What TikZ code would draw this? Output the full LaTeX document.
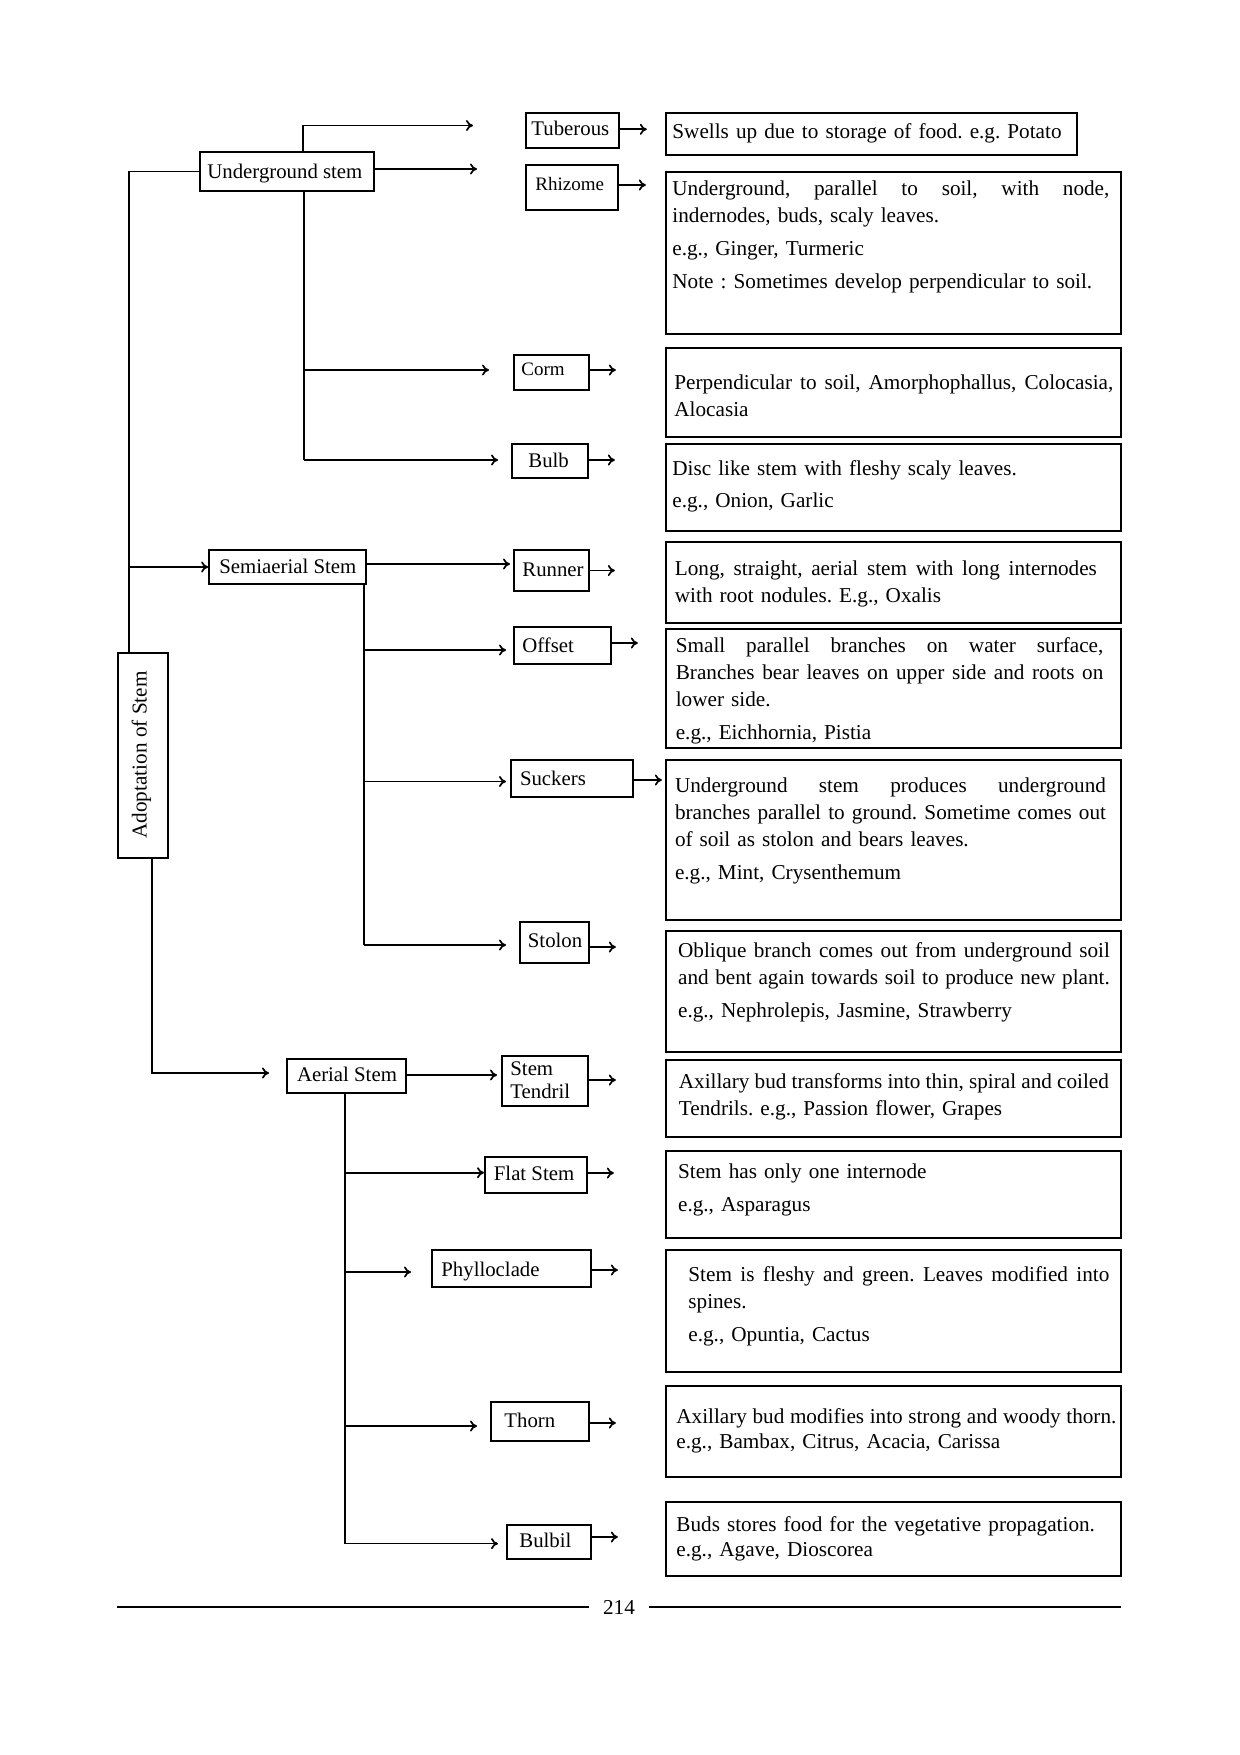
\documentclass[tikz,border=0pt]{standalone}
\usepackage{fontspec}
\setmainfont{Liberation Serif}
\usetikzlibrary{fit,arrows.meta}
\newcommand{\jl}[2]{{\spaceskip=0pt\xspaceskip=0pt\makebox[#1][s]{#2}}}
\begin{document}
\begin{tikzpicture}[x=0.5pt,y=-0.5pt,
  every node/.style={font=\fontsize{10.6}{13.5}\selectfont\frenchspacing, inner sep=0pt},
  sbox/.style={draw, line width=0.85pt, inner sep=0pt},
  dbox/.style={draw, line width=0.9pt, inner sep=0pt},
  lab/.style={anchor=base west, font=\fontsize{10.4}{12}\selectfont},
  labn/.style={anchor=base west, font=\fontsize{9.5}{12}\selectfont},
  dtxt/.style={anchor=base west, text width=226pt},
  dtxtb/.style={anchor=base west, text width=226pt, font=\fontsize{10.6}{12.5}\selectfont\frenchspacing},
  ln/.style={line width=0.85pt},
  arr/.style={line width=0.85pt, -{To[length=3.5pt,width=5.5pt]}},
  rule/.style={line width=0.9pt}
]
\fill[white] (0,0) rectangle (1240,1755);
\useasboundingbox (0,0) rectangle (1240,1755);

% ---------- main boxes ----------
\node[sbox, fit={(118.3,652.7) (168.3,858)}] (ado) {};
\node[rotate=90, font=\fontsize{10.6}{12}\selectfont] (adoT) at (141.5,755) {Adoptation of Stem};

\node[sbox, fit={(200,152) (374,191)}] (us) {};
\node[lab] (usT) at (207,178.2) {Underground stem};
\node[sbox, fit={(209,550) (366,584)}] (sa) {};
\node[lab] (saT) at (219,573) {Semiaerial Stem};
\node[sbox, fit={(287,1059) (406,1093)}] (as) {};
\node[lab] (asT) at (296.6,1081) {Aerial Stem};

% ---------- small boxes ----------
\node[sbox, fit={(526,113) (619,148)}] (tub) {};
\node[lab] (tubT) at (531,136) {Tuberous};
\node[sbox, fit={(526,165) (618,210)}] (rhi) {};
\node[labn] (rhiT) at (535,190.7) {Rhizome};
\node[sbox, fit={(514,355) (589,390)}] (corm) {};
\node[labn] (cormT) at (521,375.2) {Corm};
\node[sbox, fit={(512,444) (588,478)}] (bulb) {};
\node[lab] (bulbT) at (528,467) {Bulb};
\node[sbox, fit={(514,550) (589,591)}] (run) {};
\node[lab] (runT) at (522,576.7) {Runner};
\node[sbox, fit={(514,627) (611,664)}] (off) {};
\node[lab] (offT) at (522,652.4) {Offset};
\node[sbox, fit={(511,760) (633,797)}] (suck) {};
\node[lab] (suckT) at (519.6,785.7) {Suckers};
\node[sbox, fit={(520,922) (589,963)}] (stol) {};
\node[lab] (stolT) at (527.5,947.7) {Stolon};
\node[sbox, fit={(502,1056) (588,1106)}] (st) {};
\node[lab, text width=40pt, align=left, font=\fontsize{10.4}{11.25}\selectfont] (stT) at (510,1075.7) {Stem\\Tendril};
\node[sbox, fit={(485,1157) (587,1193)}] (fs) {};
\node[lab] (fsT) at (493.5,1180.7) {Flat Stem};
\node[sbox, fit={(432,1250) (591,1287)}] (ph) {};
\node[lab] (phT) at (441,1276.3) {Phylloclade};
\node[sbox, fit={(491,1402) (589,1441)}] (thorn) {};
\node[lab] (thornT) at (504,1427.5) {Thorn};
\node[sbox, fit={(507,1525) (591,1559)}] (bulbil) {};
\node[lab] (bulbilT) at (519,1547.4) {Bulbil};

% ---------- description boxes ----------
\node[dbox, fit={(666,113) (1077,155)}] (dtub) {};
\node[dtxt] (dtubT) at (672,139) {Swells up due to storage of food. e.g. Potato};

\node[dbox, fit={(666,172) (1121,334)}] (drhi) {};
\node[dtxt] (drhiT) at (672,196) {\jl{218.5pt}{Underground, parallel to soil, with node,}\\
indernodes, buds, scaly leaves.\\[3pt]
e.g., Ginger, Turmeric\\[3pt]
Note : Sometimes develop perpendicular to soil.};

\node[dbox, fit={(666,348) (1121,437)}] (dcorm) {};
\node[dtxt] (dcormT) at (674,389) {\jl{219.5pt}{Perpendicular to soil, Amorphophallus, Colocasia,}\\
Alocasia};

\node[dbox, fit={(666,444) (1121,531)}] (dbulb) {};
\node[dtxt] (dbulbT) at (672,475.2) {Disc like stem with fleshy scaly leaves.\\[2.5pt]
e.g., Onion, Garlic};

\node[dbox, fit={(666,542) (1121,623)}] (drun) {};
\node[dtxt] (drunT) at (674.5,575.5) {\jl{211pt}{Long, straight, aerial stem with long internodes}\\
with root nodules. E.g., Oxalis};

\node[dbox, fit={(666,629) (1121,748)}] (doff) {};
\node[dtxt] (doffT) at (675.4,652) {\jl{213.8pt}{Small parallel branches on water surface,}\\
\jl{213.8pt}{Branches bear leaves on upper side and roots on}\\
lower side.\\[3pt]
e.g., Eichhornia, Pistia};

\node[dbox, fit={(666,760) (1121,920)}] (dsuck) {};
\node[dtxt] (dsuckT) at (674.6,792.5) {\jl{215.5pt}{Underground stem produces underground}\\
\jl{215.5pt}{branches parallel to ground. Sometime comes out}\\
of soil as stolon and bears leaves.\\[3pt]
e.g., Mint, Crysenthemum};

\node[dbox, fit={(666,931) (1121,1052)}] (dstol) {};
\node[dtxt] (dstolT) at (677.7,957.8) {\jl{215.9pt}{Oblique branch comes out from underground soil}\\
\jl{215.9pt}{and bent again towards soil to produce new plant.}\\[3pt]
e.g., Nephrolepis, Jasmine, Strawberry};

\node[dbox, fit={(666,1060) (1121,1137)}] (dst) {};
\node[dtxt] (dstT) at (678.5,1088.5) {\jl{215pt}{Axillary bud transforms into thin, spiral and coiled}\\
Tendrils. e.g., Passion flower, Grapes};

\node[dbox, fit={(666,1151) (1121,1238)}] (dfs) {};
\node[dtxt] (dfsT) at (677.7,1178) {Stem has only one internode\\[3pt]
e.g., Asparagus};

\node[dbox, fit={(666,1250) (1121,1372)}] (dph) {};
\node[dtxt] (dphT) at (688,1281.5) {\jl{210.5pt}{Stem is fleshy and green. Leaves modified into}\\
spines.\\[3pt]
e.g., Opuntia, Cactus};

\node[dbox, fit={(666,1386) (1121,1477)}] (dthorn) {};
\node[dtxtb] (dthornT) at (676,1423.3) {\jl{220pt}{Axillary bud modifies into strong and woody thorn.}\\
e.g., Bambax, Citrus, Acacia, Carissa};

\node[dbox, fit={(666,1502) (1121,1576)}] (dbulbil) {};
\node[dtxtb] (dbulbilT) at (676,1531.5) {Buds stores food for the vegetative propagation.\\
e.g., Agave, Dioscorea};

% ---------- short arrows from small boxes ----------
\draw[arr] ([yshift=0.6pt]tub.east) -- ++(27,0);
\draw[arr] ([yshift=1.25pt]rhi.east) -- ++(27,0);
\draw[arr] ([yshift=1.25pt]corm.east) -- ++(26,0);
\draw[arr] ([yshift=0.5pt]bulb.east) -- ++(26,0);
\draw[arr] (run.east) -- ++(25,0);
\draw[arr] ([yshift=1.25pt]off.east) -- ++(26,0);
\draw[arr] ([yshift=-0.75pt]suck.east) -- ++(28,0);
\draw[arr] ([yshift=-2.25pt]stol.east) -- ++(26,0);
\draw[arr] ([yshift=0.5pt]st.east) -- ++(27,0);
\draw[arr] ([yshift=1pt]fs.east) -- ++(26,0);
\draw[arr] ([yshift=-0.75pt]ph.east) -- ++(26,0);
\draw[arr] ([yshift=-0.75pt]thorn.east) -- ++(26,0);
\draw[arr] ([yshift=2.5pt]bulbil.east) -- ++(26,0);

% ---------- tree connectors ----------
\coordinate (mainX) at (129.3,170);
\draw[ln] (us.west) -- (mainX |- us.west) -- (mainX |- ado.north);
\draw[arr] (mainX |- sa.west) -- (sa.west);
\coordinate (asIn) at (269,1073);
\draw[arr] ([xshift=4.5pt]ado.south) |- (asIn);

% underground
\coordinate (tubIn) at (473,125.5);
\draw[arr] ([xshift=8pt]us.north) |- (tubIn);
\coordinate (rhiIn) at (477,169);
\draw[arr] ([yshift=1.25pt]us.east) -- (rhiIn);
\coordinate (usV) at (304,460);
\draw[ln] (usV |- us.south) -- (usV);
\coordinate (cormIn) at (489,370);
\draw[arr] (usV |- cormIn) -- (cormIn);
\coordinate (bulbIn) at (498,460);
\draw[arr] (usV) -- (bulbIn);

% semiaerial
\coordinate (runIn) at (510,564);
\draw[arr] ([yshift=1.5pt]sa.east) -- (runIn);
\coordinate (saV) at (364,945);
\draw[ln] (saV |- sa.south) -- (saV);
\coordinate (offIn) at (506,650);
\draw[arr] (saV |- offIn) -- (offIn);
\coordinate (suckIn) at (506,781.5);
\draw[arr] (saV |- suckIn) -- (suckIn);
\coordinate (stolIn) at (506,945);
\draw[arr] (saV) -- (stolIn);

% aerial
\coordinate (stIn) at (497,1075);
\draw[arr] ([yshift=0.5pt]as.east) -- (stIn);
\coordinate (asV) at (345,1543.6);
\draw[ln] (asV |- as.south) -- (asV);
\coordinate (fsIn) at (484,1172.7);
\draw[arr] (asV |- fsIn) -- (fsIn);
\coordinate (phIn) at (411,1272);
\draw[arr] (asV |- phIn) -- (phIn);
\coordinate (thornIn) at (477,1426);
\draw[arr] (asV |- thornIn) -- (thornIn);
\coordinate (bulbilIn) at (498,1543.6);
\draw[arr] (asV) -- (bulbilIn);

% ---------- page rule ----------
\node[inner xsep=7pt] (pg) at (619,1607) {214};
\coordinate (ruleL) at (117,1607);
\coordinate (ruleR) at (1121,1607);
\draw[rule] (ruleL) -- (pg.west);
\draw[rule] (pg.east) -- (ruleR);
\end{tikzpicture}
\end{document}
